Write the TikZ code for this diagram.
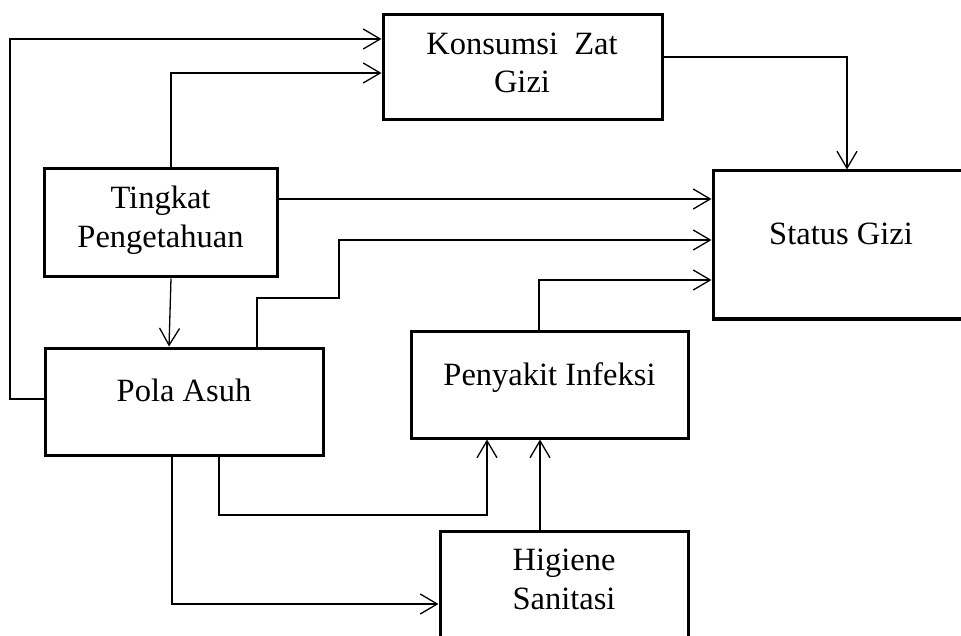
\documentclass[tikz,border=0pt]{standalone}
\usepackage{fontspec}
\setmainfont{Liberation Serif}
\usetikzlibrary{arrows.meta}
\begin{document}
\begin{tikzpicture}[x=1pt,y=-1pt,
  box/.style={draw=black, line width=3pt, rectangle, inner sep=0pt},
  arr/.style={draw=black, line width=1.3pt, -{Straight Barb[length=17pt,width=20pt,line width=1.3pt]}},
  txt/.style={inner sep=0pt, anchor=base, font=\fontsize{32.5}{38}\selectfont}]
\useasboundingbox (0,0) rectangle (961,636);
\clip (0,0) rectangle (961,636);
% boxes
\node[box, minimum width=279pt, minimum height=105pt] (kons) at (522.5,67.5) {};
\node[box, minimum width=233pt, minimum height=108pt] (ting) at (160.5,223) {};
\node[box, minimum width=257pt, minimum height=148pt] (stat) at (841.5,245) {};
\node[box, minimum width=278pt, minimum height=107pt] (pola) at (184,401.5) {};
\node[box, minimum width=277pt, minimum height=107pt] (peny) at (549.5,384.5) {};
\node[box, minimum width=248pt, minimum height=129pt] (hig) at (564,595.5) {};
% texts
\node[txt] (t1) at (522,55) {Konsumsi\ \ Zat};
\node[txt] (t2) at (522,93) {Gizi};
\node[txt] (t3) at (160.5,209) {Tingkat};
\node[txt] (t4) at (160.5,248) {Pengetahuan};
\node[txt] (t5) at (841,245) {Status Gizi};
\node[txt] (t6) at (184,401) {Pola Asuh};
\node[txt] (t7) at (549.5,385) {Penyakit Infeksi};
\node[txt] (t8) at (564,570) {Higiene};
\node[txt] (t9) at (564,609) {Sanitasi};
% connectors
\draw[arr] (pola.west |- 0,399) -- (10,399) |- (kons.west |- 0,39);
\draw[arr] (ting.north -| 171,0) |- (kons.west |- 0,73);
\draw[arr] (kons.east |- 0,57) -| (stat.north -| 847,0);
\draw[arr] (ting.east |- 0,199) -- (stat.west |- 0,199);
\draw[arr] (pola.north -| 257,0) |- (339,298) |- (stat.west |- 0,240);
\draw[arr] (peny.north -| 539,0) |- (stat.west |- 0,280);
\draw[arr] (ting.south -| 171,0) -- (pola.north -| 169,0);
\draw[arr] (pola.south -| 219,0) |- (487,515) -- (peny.south -| 487,0);
\draw[arr] (hig.north -| 540,0) -- (peny.south -| 540,0);
\draw[arr] (pola.south -| 172,0) |- (hig.west |- 0,604);
\end{tikzpicture}
\end{document}
